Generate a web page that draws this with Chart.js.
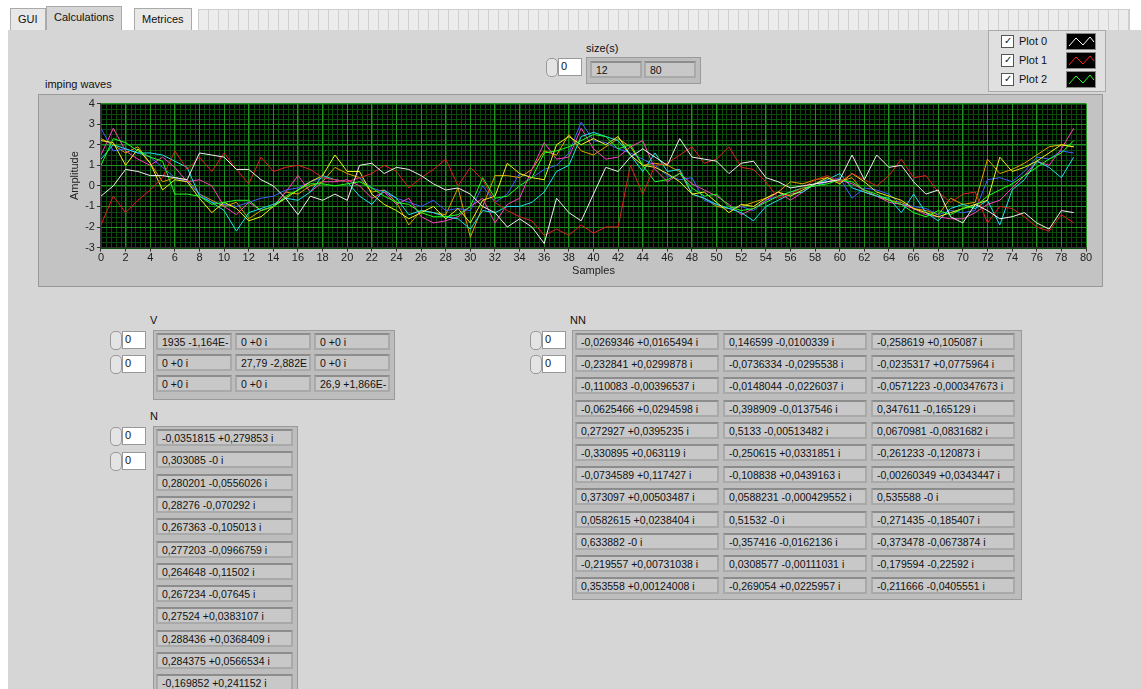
<!DOCTYPE html>
<html>
<head>
<meta charset="utf-8">
<script src="https://cdn.jsdelivr.net/npm/chart.js@4"></script>
<style>
body { margin:0; width:1141px; height:689px; background:#fff; font-family:"Liberation Sans", Arial, sans-serif; font-size:11px; color:#111; overflow:hidden; position:relative; }
.abs { position:absolute; }
#panel { left:8px; top:30px; width:1133px; height:659px; background:#d6d6d6; }
.tab { position:absolute; top:8px; height:21px; border:1px solid #aaa; background:#e8e8e8; line-height:20px; padding:0 7px; font-size:11px; }
.cell { position:absolute; height:17px; background:#c8c8c8; border:2px solid #a9a9a9; border-top-color:#8c8c8c; box-sizing:border-box; line-height:14px; padding-left:4px; font-size:10.5px; white-space:nowrap; overflow:hidden; }
.idx { position:absolute; width:40px; height:18px; }
.idx .spin { position:absolute; left:0; top:0; width:10px; height:17px; border:1px solid #999; border-radius:5px; background:#e4e4e4; }
.idx .box { position:absolute; left:12px; top:0; width:20px; height:16px; background:#fff; border:1px solid #999; font-size:11px; line-height:15px; padding-left:2px; }
.frame { position:absolute; background:#bdbdbd; border:1px solid #9a9a9a; }
</style>
</head>
<body>
<div class="tab" style="left:10px">GUI</div>
<div class="tab" style="left:46px;background:#d6d6d6;border-bottom:none;top:6px;height:24px">Calculations</div>
<div class="tab" style="left:134px">Metrices</div>
<div class="abs" style="left:198px;top:9px;width:930px;height:20px;background:repeating-linear-gradient(90deg,#ececec 0 9px,#d0d0d0 9px 10px);border:1px solid #ccc"></div>
<div id="panel" class="abs"></div>

<div class="abs" style="left:586px;top:42px">size(s)</div>
<div class="idx" style="left:546px;top:58px"><div class="spin"></div><div class="box">0</div></div>
<div class="frame" style="left:586px;top:57px;width:113px;height:25px"></div>
<div class="cell" style="left:590px;top:61px;width:52px">12</div>
<div class="cell" style="left:644px;top:61px;width:52px">80</div>

<div class="abs" style="left:988px;top:30px;width:116px;height:60px;background:#e0e0e0;border:1px solid #aaa"></div>
<div id="legend"></div>

<div class="abs" style="left:45px;top:78px">imping waves</div>
<div class="abs" style="left:38px;top:94px;width:1063px;height:191px;background:#c3c3c3;border:1px solid #999"></div>
<div class="abs" style="left:40px;top:95px;width:1060px;height:190px"><canvas id="waves"></canvas></div>

<div id="tables"></div>

<script>
// x axis: sample index, y: amplitude
const xTicks = [0, 80, 2];
const yTicks = [-3, 4, 1];

const plotNames = ['Plot 0', 'Plot 1', 'Plot 2'];
const plotColors = ['#ffffff', '#ff2020', '#20ff20'];

const wRed = [-1.9,-0.5,-1.3,-0.7,-0.2,0.4,1.7,0.8,1.4,0.7,1.6,0.8,0.1,1.4,0.7,0.9,1.0,0.8,0.4,0.3,0.2,0.4,0.6,1.0,0.7,-0.1,0.4,0.8,1.3,0.0,0.9,0.3,-0.8,-1.2,-1.5,-1.7,-2.4,-2.1,-2.4,-1.9,-2.3,-2.0,-2.0,1.0,-0.4,1.0,1.1,1.5,1.9,1.1,1.3,1.9,0.9,0.8,0.2,-0.6,-0.4,-0.1,0.3,0.5,0.2,0.6,0.3,0.0,0.5,1.3,0.4,0.5,-0.3,-0.8,-0.4,-0.3,-1.8,-1.0,-1.1,-1.5,-2.0,-2.2,-1.4,-1.8];
const wWhite = [-0.5,0.0,0.8,0.7,0.5,0.5,0.4,0.3,1.6,1.5,1.4,0.8,0.8,0.3,0.0,-0.6,-1.4,-0.5,-0.7,-0.4,-0.7,1.0,1.1,0.6,0.9,0.8,0.5,0.1,-0.2,-0.1,-0.4,-1.0,-1.3,-2.0,-1.6,-2.0,-2.8,-0.6,-1.3,-1.7,-0.4,0.9,0.7,1.4,1.8,1.4,1.0,2.3,1.4,1.3,1.2,0.6,1.1,1.2,0.4,0.2,-0.1,0.0,0.1,0.2,0.3,1.5,0.3,1.5,0.9,1.0,0.2,-0.4,-0.2,-1.5,-1.8,-0.9,-1.2,-1.6,-1.5,-1.3,-1.8,-2.1,-1.2,-1.3];
const wGreen = [1.0,2.3,2.1,1.7,1.4,1.2,-0.4,-0.4,-0.5,-0.9,-0.8,-0.7,-0.7,-1.2,-1.0,-0.5,-0.2,0.1,0.1,0.0,0.1,0.2,-0.1,-0.5,-0.8,-0.9,-1.3,-1.5,-1.5,-1.4,-1.0,0.4,-0.6,-0.5,0.0,0.4,1.6,1.7,1.9,2.2,2.5,2.4,1.8,2.0,1.0,0.2,0.3,0.6,-0.1,-0.5,-0.4,-1.0,-1.2,-1.1,-0.8,-0.5,-0.3,-0.1,0.0,0.1,0.3,0.2,-0.2,-0.4,-0.7,-0.9,-1.3,-1.5,-1.2,-1.4,-1.1,-1.0,-0.5,-0.2,0.1,0.5,0.9,1.3,1.6,2.2];
const wYellow = [2.2,2.1,1.0,1.8,1.1,-0.2,0.3,0.2,-0.6,-1.3,-0.8,-1.1,-1.7,-1.5,-1.0,-0.6,-0.2,0.2,0.5,1.5,0.7,0.7,-0.4,-0.9,-1.2,-1.6,-1.3,-1.0,-1.6,-1.1,-1.8,-0.7,-0.5,1.1,0.6,0.4,0.3,2.0,2.4,2.0,2.3,2.0,2.4,1.5,1.0,0.9,0.6,0.2,-0.4,-0.3,-0.8,-1.3,-0.9,-1.0,-0.6,-0.3,-0.5,-0.2,0.1,0.4,0.1,0.6,0.2,-0.3,-0.5,-0.7,-1.1,-1.3,-1.5,-1.3,-1.1,-0.9,-0.7,1.4,0.7,0.9,1.2,1.6,2.0,1.9];
const wCyan = [1.3,2.0,1.8,1.6,1.6,1.5,1.2,0.9,-0.5,-0.8,-1.2,-2.2,-1.3,-1.1,-0.9,-0.6,-0.7,-0.3,0.5,0.3,0.2,-0.5,-0.9,-0.2,-0.6,-1.4,-1.2,-1.3,-1.5,-1.6,-2.1,-1.2,-1.3,-1.0,-1.0,-0.8,-0.3,0.7,1.0,2.4,2.6,2.4,2.2,1.5,0.7,1.6,0.7,0.8,-0.4,-0.6,-0.9,-1.1,-1.3,-1.7,-1.0,-0.7,-0.4,-0.3,0.1,0.3,0.6,-0.1,-0.3,-0.5,-0.6,-1.3,-0.4,-1.3,-1.7,-1.1,-0.9,-1.1,-0.7,-1.9,-0.2,0.3,1.2,0.9,0.4,1.4];
const wMagenta = [1.5,2.8,1.7,1.3,1.0,1.4,0.9,0.2,0.3,0.0,-1.0,-1.4,-0.8,-1.2,-1.0,-0.3,0.5,-0.3,0.2,0.2,0.3,0.0,-0.6,-0.3,-0.9,-0.6,-1.5,-1.8,-1.7,-1.5,-1.0,-0.6,-1.8,-0.9,-0.6,0.8,2.1,1.3,1.4,2.8,1.8,1.3,1.4,1.9,2.2,0.8,0.2,0.6,0.1,-0.2,-0.5,-0.9,-1.4,-1.1,-0.7,-0.3,-0.7,-0.3,0.1,0.2,0.3,0.1,-0.2,-0.5,-0.8,-0.9,-1.1,-1.4,-1.5,-1.6,-1.6,-1.3,-0.9,-0.7,-0.1,0.5,1.2,1.0,1.8,2.8];
const wBlue = [2.8,1.7,1.8,1.6,1.4,0.9,0.4,0.2,-0.4,-0.8,-0.9,-1.0,-0.8,-0.6,-0.5,-0.2,-0.1,0.2,0.4,0.3,0.2,0.4,-0.1,-0.3,-0.6,-0.8,-1.0,-0.7,-1.2,-1.1,-1.2,0.0,-0.8,-0.4,0.6,0.4,0.8,1.0,1.6,3.1,2.2,2.1,1.8,1.6,1.3,1.0,0.5,0.3,0.4,-0.7,-0.9,-1.1,-1.0,-1.2,-0.7,-0.5,-0.3,-0.1,0.0,0.2,0.4,-0.6,-0.1,-0.2,-0.4,-0.9,-1.0,-1.1,-1.4,-1.2,-1.3,-1.2,0.3,0.4,0.2,0.7,1.4,1.3,1.7,1.6];
const wOrange = [2.3,2.0,1.6,1.9,1.1,0.2,0.4,0.3,-0.4,-0.7,-1.0,-0.8,-1.6,-1.2,-1.0,-0.3,-0.4,0.0,0.2,0.9,0.6,0.4,-0.3,-0.2,-0.8,-1.9,-1.2,-1.3,-1.4,-0.1,-2.5,-1.0,0.5,0.5,0.4,0.8,1.7,1.5,2.5,1.7,1.5,1.9,2.3,1.9,1.0,1.1,1.0,0.7,-0.4,-0.6,-1.0,-1.1,-1.0,-0.8,-0.6,-0.3,0.2,0.1,0.3,0.4,0.2,0.4,-0.3,-0.5,-0.7,-0.8,-1.1,-1.2,-1.4,-0.6,-0.9,-0.8,1.3,0.6,0.8,1.1,1.5,1.9,2.0,1.9];

const waves = [wWhite, wRed, wGreen, wYellow, wCyan, wMagenta, wBlue, wOrange];
const waveColors = ['#f0f0f0', '#e02020', '#20ff20', '#f0f020', '#20e0f0', '#ff40c0', '#4060ff', '#e0a000'];

const sizeVals = ['12', '80'];
const vRows = [
  ['1935 -1,164E-', '0 +0 i', '0 +0 i'],
  ['0 +0 i', '27,79 -2,882E', '0 +0 i'],
  ['0 +0 i', '0 +0 i', '26,9 +1,866E-']
];
const nRows = ['-0,0351815 +0,279853 i','0,303085 -0 i','0,280201 -0,0556026 i','0,28276 -0,070292 i','0,267363 -0,105013 i','0,277203 -0,0966759 i','0,264648 -0,11502 i','0,267234 -0,07645 i','0,27524 +0,0383107 i','0,288436 +0,0368409 i','0,284375 +0,0566534 i','-0,169852 +0,241152 i'];
const nnRows = [
  ['-0,0269346 +0,0165494 i','0,146599 -0,0100339 i','-0,258619 +0,105087 i'],
  ['-0,232841 +0,0299878 i','-0,0736334 -0,0295538 i','-0,0235317 +0,0775964 i'],
  ['-0,110083 -0,00396537 i','-0,0148044 -0,0226037 i','-0,0571223 -0,000347673 i'],
  ['-0,0625466 +0,0294598 i','-0,398909 -0,0137546 i','0,347611 -0,165129 i'],
  ['0,272927 +0,0395235 i','0,5133 -0,00513482 i','0,0670981 -0,0831682 i'],
  ['-0,330895 +0,063119 i','-0,250615 +0,0331851 i','-0,261233 -0,120873 i'],
  ['-0,0734589 +0,117427 i','-0,108838 +0,0439163 i','-0,00260349 +0,0343447 i'],
  ['0,373097 +0,00503487 i','0,0588231 -0,000429552 i','0,535588 -0 i'],
  ['0,0582615 +0,0238404 i','0,51532 -0 i','-0,271435 -0,185407 i'],
  ['0,633882 -0 i','-0,357416 -0,0162136 i','-0,373478 -0,0673874 i'],
  ['-0,219557 +0,00731038 i','0,0308577 -0,00111031 i','-0,179594 -0,22592 i'],
  ['0,353558 +0,00124008 i','-0,269054 +0,0225957 i','-0,211666 -0,0405551 i']
];

// legend
let lg = '';
plotNames.forEach((n, i) => {
    let y = 35 + i * 19;
    lg += `<div class="abs" style="left:1001px;top:${y}px;width:11px;height:11px;border:1px solid #555;background:#fff;font-size:10px;line-height:10px;text-align:center">&#10003;</div>`;
    lg += `<div class="abs" style="left:1019px;top:${y}px">${n}</div>`;
    lg += `<div class="abs" style="left:1066px;top:${y - 2}px;width:28px;height:15px;background:#000;border:1px solid #888;overflow:hidden">
      <svg width="28" height="15"><polyline points="2,12 9,4 16,11 23,3 27,8" fill="none" stroke="${plotColors[i]}" stroke-width="1"/></svg></div>`;
});
document.getElementById('legend').innerHTML = lg;

// tables
let t = '';
function idx(x, y) { return `<div class="idx" style="left:${x}px;top:${y}px"><div class="spin"></div><div class="box">0</div></div>`; }
t += `<div class="abs" style="left:150px;top:314px">V</div>` + idx(110, 331) + idx(110, 355);
t += `<div class="frame" style="left:153px;top:330px;width:240px;height:68px"></div>`;
vRows.forEach((r, i) => r.forEach((c, j) => {
    t += `<div class="cell" style="left:${156 + j * 79}px;top:${333 + i * 21}px;width:76px">${c}</div>`;
}));
t += `<div class="abs" style="left:150px;top:410px">N</div>` + idx(110, 427) + idx(110, 452);
t += `<div class="frame" style="left:153px;top:426px;width:143px;height:270px"></div>`;
nRows.forEach((c, i) => {
    t += `<div class="cell" style="left:156px;top:${429 + i * 22.3}px;width:137px">${c}</div>`;
});
t += `<div class="abs" style="left:570px;top:314px">NN</div>` + idx(530, 331) + idx(530, 355);
t += `<div class="frame" style="left:572px;top:330px;width:448px;height:268px"></div>`;
nnRows.forEach((r, i) => r.forEach((c, j) => {
    t += `<div class="cell" style="left:${575 + j * 148}px;top:${333 + i * 22.2}px;width:144px">${c}</div>`;
}));
document.getElementById('tables').innerHTML = t;

// black plot area + minor grid
const plotBack = {
    id: 'plotBack',
    beforeDraw(chart) {
        const { ctx, chartArea: a, scales: { x, y } } = chart;
        ctx.save();
        ctx.fillStyle = '#000';
        ctx.fillRect(a.left, a.top, a.right - a.left, a.bottom - a.top);
        ctx.strokeStyle = '#0a4a0a';
        ctx.lineWidth = 1;
        for (let v = 0; v <= 80; v += 0.4) {
            let px = Math.round(x.getPixelForValue(v)) + 0.5;
            ctx.beginPath(); ctx.moveTo(px, a.top); ctx.lineTo(px, a.bottom); ctx.stroke();
        }
        for (let v = -3; v <= 4; v += 0.25) {
            let py = Math.round(y.getPixelForValue(v)) + 0.5;
            ctx.beginPath(); ctx.moveTo(a.left, py); ctx.lineTo(a.right, py); ctx.stroke();
        }
        ctx.restore();
    }
};

new Chart(document.getElementById('waves'), {
    type: 'line',
    data: {
        datasets: waves.map((w, i) => ({
            data: w.map((v, k) => ({ x: k, y: v })),
            borderColor: waveColors[i],
            borderWidth: 1,
            pointRadius: 0,
            tension: 0
        }))
    },
    options: {
        responsive: true,
        maintainAspectRatio: false,
        animation: false,
        layout: { padding: { left: 26, right: 14, top: 6, bottom: 7 } },
        plugins: { legend: { display: false }, tooltip: { enabled: false } },
        scales: {
            x: {
                type: 'linear', min: xTicks[0], max: xTicks[1],
                ticks: { stepSize: xTicks[2], color: '#222', font: { size: 11 }, padding: 0 },
                grid: { color: '#1f8f1f', tickColor: '#333', tickLength: 4 },
                border: { color: '#333' },
                title: { display: true, text: 'Samples', color: '#222', font: { size: 11 }, padding: 0 }
            },
            y: {
                min: yTicks[0], max: yTicks[1],
                ticks: { stepSize: yTicks[2], color: '#222', font: { size: 11 }, padding: 2 },
                grid: { color: '#1f8f1f', tickColor: '#333', tickLength: 4 },
                border: { color: '#333' },
                title: { display: true, text: 'Amplitude', color: '#222', font: { size: 11 }, padding: 2 }
            }
        }
    },
    plugins: [plotBack]
});
</script>
</body>
</html>
